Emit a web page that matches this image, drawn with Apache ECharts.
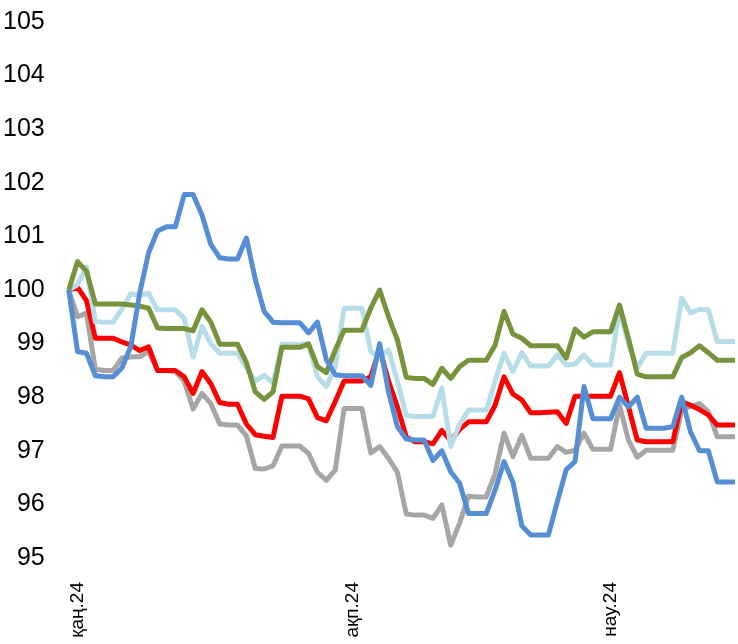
<!DOCTYPE html>
<html>
<head>
<meta charset="utf-8">
<script src="https://cdn.jsdelivr.net/npm/echarts@6/dist/echarts.min.js"></script>
<style>
	html, body { margin: 0; padding: 0; background: #fff; }
	#chart { width: 738px; height: 644px; }
</style>
</head>
<body>
<div id="chart"></div>
<script>
// daily points, 31.12.2023 .. 15.03.2024
let startDate = new Date(2023, 11, 31);
let dayCount = 76;
let categories = [];
for (let i = 0; i < dayCount; i++) {
	let d = new Date(startDate.getTime() + i * 86400000);
	categories.push(d.getFullYear() + "-" + (d.getMonth() + 1) + "-" + d.getDate());
}

let tickIndex = [1, 32, 61];
let tickLabels = ["қаң.24", "ақп.24", "нау.24"];

let grayData = [
	100, 99.5, 99.57, 98.52, 98.5, 98.5, 98.73, 98.75, 98.76, 98.85,
	98.5, 98.5, 98.48, 98.3, 97.78, 98.07, 97.88, 97.5, 97.48, 97.48,
	97.28, 96.67, 96.66, 96.72, 97.09, 97.09, 97.09, 96.95, 96.6, 96.45,
	96.64, 97.79, 97.79, 97.79, 96.96, 97.08, 96.86, 96.6, 95.82, 95.8,
	95.8, 95.74, 95.99, 95.24, 95.65, 96.15, 96.14, 96.14, 96.58, 97.33,
	96.89, 97.29, 96.86, 96.86, 96.86, 97.08, 96.97, 97.01, 97.33, 97.03,
	97.03, 97.03, 97.85, 97.2, 96.88, 97.01, 97.01, 97.01, 97.01, 97.76,
	97.83, 97.88, 97.73, 97.26, 97.26, 97.26,
];

let redData = [
	100, 100.05, 99.8, 99.1, 99.1, 99.1, 99.03, 98.97, 98.87, 98.94,
	98.5, 98.5, 98.5, 98.38, 98.07, 98.48, 98.25, 97.9, 97.87, 97.87,
	97.5, 97.3, 97.27, 97.25, 98.02, 98.02, 98.02, 97.97, 97.62, 97.56,
	97.92, 98.3, 98.3, 98.3, 98.38, 98.9, 98.3, 97.82, 97.26, 97.17,
	97.17, 97.13, 97.38, 97.19, 97.4, 97.54, 97.54, 97.54, 97.85, 98.38,
	98.06, 97.95, 97.71, 97.71, 97.72, 97.73, 97.51, 98.02, 98.02, 98.02,
	98.02, 98.02, 98.46, 97.83, 97.2, 97.17, 97.17, 97.17, 97.17, 97.92,
	97.85, 97.77, 97.67, 97.48, 97.48, 97.48,
];

let lightBlueData = [
	100, 100.1, 100.43, 99.41, 99.4, 99.4, 99.65, 99.93, 99.9, 99.94,
	99.63, 99.63, 99.63, 99.47, 98.75, 99.32, 99.0, 98.82, 98.82, 98.82,
	98.55, 98.3, 98.41, 98.26, 98.99, 98.99, 98.99, 99.0, 98.38, 98.2,
	98.57, 99.66, 99.66, 99.66, 98.85, 98.75, 98.88, 98.3, 97.66, 97.64,
	97.64, 97.64, 98.17, 97.08, 97.5, 97.76, 97.76, 97.76, 98.3, 98.82,
	98.48, 98.83, 98.58, 98.58, 98.58, 98.79, 98.6, 98.62, 98.79, 98.6,
	98.6, 98.6, 99.63, 99.0, 98.55, 98.82, 98.82, 98.82, 98.82, 99.85,
	99.57, 99.64, 99.63, 99.04, 99.04, 99.04,
];

let greenData = [
	100, 100.53, 100.35, 99.74, 99.74, 99.74, 99.74, 99.72, 99.7, 99.66,
	99.29, 99.28, 99.28, 99.28, 99.24, 99.63, 99.4, 98.99, 98.99, 98.99,
	98.65, 98.1, 97.96, 98.1, 98.93, 98.93, 98.93, 98.99, 98.57, 98.46,
	98.88, 99.25, 99.25, 99.25, 99.66, 100.0, 99.5, 99.07, 98.37, 98.35,
	98.35, 98.24, 98.54, 98.35, 98.57, 98.69, 98.69, 98.69, 98.97, 99.6,
	99.18, 99.1, 98.96, 98.96, 98.96, 98.96, 98.73, 99.27, 99.12, 99.22,
	99.22, 99.22, 99.72, 99.1, 98.43, 98.38, 98.38, 98.38, 98.38, 98.74,
	98.83, 98.96, 98.83, 98.69, 98.69, 98.69,
];

let blueData = [
	100, 98.85, 98.82, 98.4, 98.38, 98.38, 98.55, 98.95, 99.95, 100.7,
	101.1, 101.18, 101.18, 101.78, 101.78, 101.4, 100.85, 100.6, 100.58, 100.58,
	100.97, 100.2, 99.6, 99.4, 99.39, 99.39, 99.39, 99.2, 99.4, 98.7,
	98.42, 98.4, 98.4, 98.4, 98.22, 99.0, 98.1, 97.45, 97.22, 97.2,
	97.2, 96.82, 97.0, 96.61, 96.4, 95.83, 95.83, 95.83, 96.27, 96.8,
	96.42, 95.6, 95.43, 95.43, 95.43, 96.05, 96.65, 96.8, 98.2, 97.6,
	97.6, 97.6, 98.0, 97.82, 98.0, 97.42, 97.42, 97.42, 97.45, 98.0,
	97.35, 97.0, 97.0, 96.42, 96.42, 96.42,
];

function lineSeries(data, color) {
	return {
		type: "line",
		data: data,
		showSymbol: false,
		symbol: "none",
		smooth: false,
		lineStyle: { color: color, width: 5, join: "round" },
		itemStyle: { color: color },
		emphasis: { disabled: true },
	};
}

let chart = echarts.init(document.getElementById("chart"));
chart.setOption({
	animation: false,
	backgroundColor: "#fff",
	grid: { left: 67, right: 3, top: 22, bottom: 86, containLabel: false },
	xAxis: {
		type: "category",
		data: categories,
		boundaryGap: false,
		axisLine: { show: false },
		axisTick: { show: false },
		splitLine: { show: false },
		axisLabel: {
			rotate: 90,
			margin: 24,
			color: "#000",
			fontFamily: "'Liberation Sans', Arial, sans-serif",
			fontSize: 19,
			interval: function (index) {
				return tickIndex.indexOf(index) >= 0;
			},
			formatter: function (value, index) {
				let k = tickIndex.indexOf(index);
				return k >= 0 ? tickLabels[k] : "";
			},
		},
	},
	yAxis: {
		type: "value",
		min: 95,
		max: 105,
		interval: 1,
		axisLine: { show: false },
		axisTick: { show: false },
		splitLine: { show: false },
		axisLabel: {
			margin: 24,
			color: "#000",
			fontFamily: "'Liberation Sans Narrow', 'Arial Narrow', 'Liberation Sans', sans-serif",
			fontSize: 25,
		},
	},
	series: [
		lineSeries(grayData, "#A6A6A6"),
		lineSeries(redData, "#FF0000"),
		lineSeries(lightBlueData, "#B7DEE8"),
		lineSeries(greenData, "#77933C"),
		lineSeries(blueData, "#558ED5"),
	],
});
</script>
</body>
</html>
